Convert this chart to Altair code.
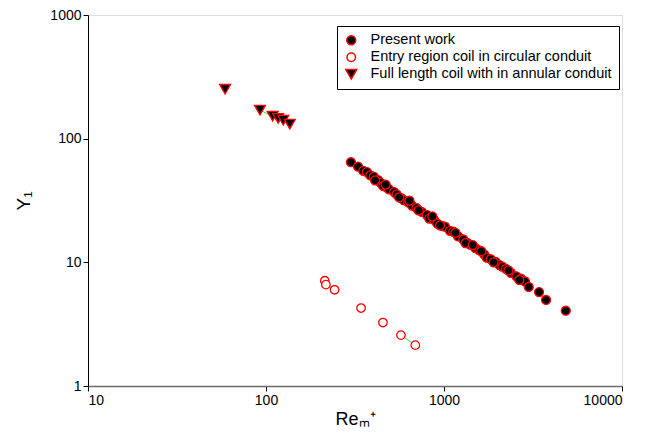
import altair as alt
import pandas as pd

# Present work
pw_re = [300, 329, 352, 369, 385, 403, 427, 440, 456, 480, 491, 525, 542,
         575, 594, 630, 661, 700, 750, 800, 827, 880, 917,
         980, 1013, 1080, 1128, 1200, 1283, 1350, 1400, 1500,
         1579, 1680, 1738, 1830, 1952, 2050, 2127, 2230,
         2378, 2550, 2708, 2850, 2993, 3420, 3744, 4830,
         410, 470, 560, 640, 720, 860, 950, 1160, 1320, 1450, 1620, 1900, 2300, 2650]
pw_y = [64.5, 59.4, 55.0, 53.7, 50.5, 49.3, 46.2, 44.0, 41.3, 40.0, 38.9,
        37.0, 35.4, 33.0, 31.8, 30.5, 28.8, 27.5, 25.6, 24.2, 22.6,
        22.0, 20.6, 19.6, 19.4, 18.0, 17.7, 16.2, 15.3, 14.4,
        13.9, 13.0, 12.5, 11.6, 10.9, 10.6, 10.1, 9.5, 9.23,
        8.84, 8.2, 7.7, 7.38, 7.0, 6.32, 5.75, 4.96, 4.06,
        46.0, 42.5, 33.5, 31.5, 26.3, 23.5, 19.9, 17.3, 14.3, 13.8, 12.3, 10.0, 8.6, 7.2]

# Entry region coil in circular conduit
er_re = [214, 217, 243, 342, 454, 573, 690]
er_y = [7.1, 6.6, 6.0, 4.27, 3.26, 2.58, 2.14]

# Full length coil with in annular conduit
fl_re = [58.9, 92.5, 109, 117, 125, 136]
fl_y = [251, 170, 152, 146, 141, 131]

series = ["Present work",
          "Entry region coil in circular conduit",
          "Full length coil with in annular conduit"]

rows = []
for s, xs, ys in zip(series, [pw_re, er_re, fl_re], [pw_y, er_y, fl_y]):
    for a, b in zip(xs, ys):
        rows.append({"series": s, "re": a, "y": b})
df = pd.DataFrame(rows)

# short green connector segments visible between some markers
seg_pairs = [(pw_re, pw_y, 1, 3), (er_re, er_y, 1, 2), (er_re, er_y, 5, 6), (fl_re, fl_y, 1, 2)]
seg_rows = []
for k, (xs, ys, i, j) in enumerate(seg_pairs):
    seg_rows.append({"seg": k, "re": xs[i], "y": ys[i]})
    seg_rows.append({"seg": k, "re": xs[j], "y": ys[j]})
seg_df = pd.DataFrame(seg_rows)

FONT = "Liberation Sans"

xenc = alt.X("re:Q",
             scale=alt.Scale(type="log", domain=[10, 10000], nice=False),
             axis=alt.Axis(values=[10, 100, 1000, 10000], format="d", title="Reₘ⁺",
                           grid=False, tickSize=5, labelFontSize=14, titleFontSize=18,
                           titleFontWeight="normal", domainColor="#6b6b6b", domainWidth=1.5,
                           tickColor="black", labelColor="black", titleColor="black",
                           labelPadding=2, titlePadding=3, labelFont=FONT, titleFont=FONT))
yenc = alt.Y("y:Q",
             scale=alt.Scale(type="log", domain=[1, 1000], nice=False),
             axis=alt.Axis(values=[1, 10, 100, 1000], format="d", title="Y₁",
                           grid=False, tickSize=5, labelFontSize=14, titleFontSize=19,
                           titleFontWeight="normal", domainColor="black", domainWidth=1,
                           tickColor="black", labelColor="black", titleColor="black",
                           labelPadding=2, titlePadding=16, labelFont=FONT, titleFont=FONT))

leg = alt.Legend(title=None, orient="none", legendX=249, legendY=11,
                 fillColor="white", strokeColor="black", padding=7,
                 labelFontSize=14.5, labelFont=FONT, labelColor="black", labelLimit=0,
                 rowPadding=1, symbolStrokeWidth=1.5, labelOffset=12)

lines = alt.Chart(seg_df).mark_line(color="#33dd33", strokeWidth=1).encode(
    x=xenc, y=yenc, detail="seg:N")

points = alt.Chart(df).mark_point(filled=True, opacity=1, strokeWidth=1.3).encode(
    x=xenc, y=yenc,
    shape=alt.Shape("series:N", scale=alt.Scale(domain=series,
                    range=["circle", "circle", "triangle-down"]), legend=leg),
    fill=alt.Fill("series:N", scale=alt.Scale(domain=series,
                  range=["black", "white", "black"]), legend=leg),
    stroke=alt.Stroke("series:N", scale=alt.Scale(domain=series,
                      range=["red", "red", "red"]), legend=leg),
    size=alt.Size("series:N", scale=alt.Scale(type="ordinal", domain=series,
                  range=[80, 72, 120]), legend=leg),
)

chart = alt.layer(lines, points).properties(
    width=534, height=371,
    autosize="none",
    padding={"left": 88, "top": 15, "right": 32, "bottom": 48},
).configure_view(stroke="black", strokeWidth=1).configure(background="white")

chart.save("out.html", embed_options={"renderer": "svg", "actions": False})
